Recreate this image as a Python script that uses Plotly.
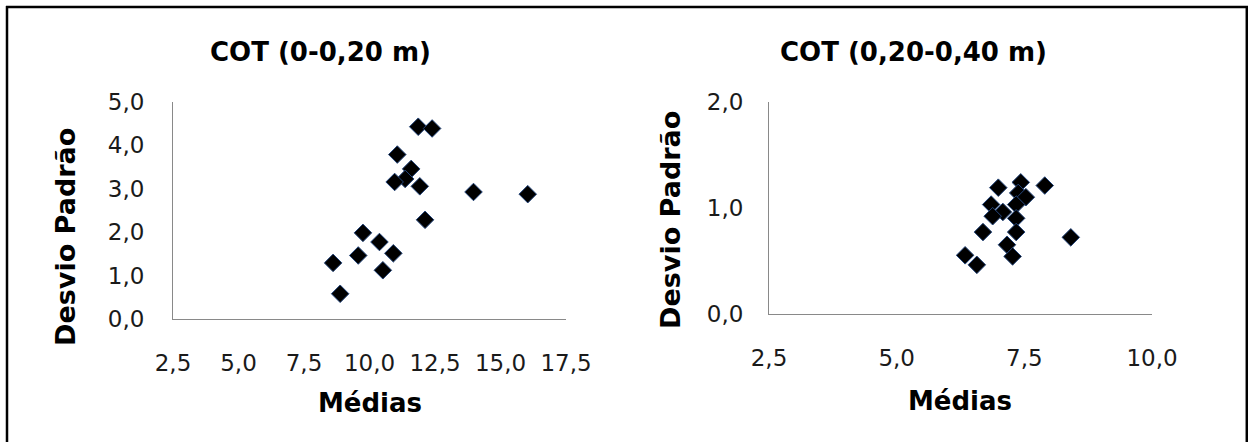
import plotly.graph_objects as go

# COT 0-0,20 m: mean (Médias) vs standard deviation (Desvio Padrão)
medias_0_20 = [11.86, 12.39, 11.06, 11.59, 11.36, 10.96, 11.92, 13.97, 16.04,
               12.12, 9.75, 10.38, 9.57, 10.91, 8.61, 10.51, 8.88]
desvio_0_20 = [4.42, 4.38, 3.78, 3.45, 3.22, 3.15, 3.05, 2.92, 2.87,
               2.28, 1.98, 1.77, 1.46, 1.51, 1.29, 1.12, 0.58]

# COT 0,20-0,40 m
medias_20_40 = [6.99, 7.43, 7.90, 7.38, 7.53, 6.85, 7.34, 7.08, 6.88,
                7.34, 6.69, 7.34, 8.41, 7.16, 7.27, 6.34, 6.57]
desvio_20_40 = [1.19, 1.24, 1.21, 1.14, 1.10, 1.03, 1.03, 0.96, 0.92,
                0.90, 0.77, 0.77, 0.72, 0.65, 0.54, 0.55, 0.46]

titles = ["COT (0-0,20 m)", "COT (0,20-0,40 m)"]
x_label = "Médias"
y_label = "Desvio Padrão"

left_xticks = [2.5, 5.0, 7.5, 10.0, 12.5, 15.0, 17.5]
left_yticks = [0.0, 1.0, 2.0, 3.0, 4.0, 5.0]
right_xticks = [2.5, 5.0, 7.5, 10.0]
right_yticks = [0.0, 1.0, 2.0]


def fmt(v):
    return f"{v:.1f}".replace(".", ",")


W, H = 1248, 442
FONT = "DejaVu Sans"
AXIS_GRAY = "#898989"

marker = dict(symbol="diamond", size=13.5, color="black",
              line=dict(color="#24457a", width=1))

fig = go.Figure()
fig.add_trace(go.Scatter(x=medias_0_20, y=desvio_0_20, mode="markers",
                         marker=marker, xaxis="x", yaxis="y", showlegend=False))
fig.add_trace(go.Scatter(x=medias_20_40, y=desvio_20_40, mode="markers",
                         marker=marker, xaxis="x2", yaxis="y2", showlegend=False))


def px_x(p):
    return p / W


def px_y(p):
    return 1 - p / H


tick_font = dict(family=FONT, size=23, color="#1a1a1a")


def axis(dom, rng, ticks, anchor, standoff):
    return dict(domain=dom, range=rng, tickvals=ticks,
                ticktext=[fmt(t) for t in ticks], showgrid=False,
                zeroline=False, showline=True, linecolor=AXIS_GRAY,
                linewidth=1, ticks="", ticklabelstandoff=standoff,
                tickfont=tick_font, anchor=anchor, fixedrange=True,
                automargin=False)


fig.update_layout(
    width=W, height=H,
    margin=dict(l=0, r=0, t=0, b=0, pad=0, autoexpand=False),
    paper_bgcolor="white", plot_bgcolor="white",
    xaxis=axis([px_x(173), px_x(566)], [2.5, 17.5], left_xticks, "y", 23),
    yaxis=axis([px_y(319), px_y(101.5)], [0, 5], left_yticks, "x", 23),
    xaxis2=axis([px_x(769), px_x(1152)], [2.5, 10], right_xticks, "y2", 24),
    yaxis2=axis([px_y(313.5), px_y(102)], [0, 2], right_yticks, "x2", 20),
)

annotations = [
    dict(text=f"<b>{titles[0]}</b>", x=px_x(321), y=px_y(52)),
    dict(text=f"<b>{titles[1]}</b>", x=px_x(913), y=px_y(52)),
    dict(text=f"<b>{x_label}</b>", x=px_x(370), y=px_y(403)),
    dict(text=f"<b>{x_label}</b>", x=px_x(960), y=px_y(401)),
]
for a in annotations:
    a.update(xref="paper", yref="paper", showarrow=False,
             xanchor="center", yanchor="middle",
             font=dict(family=FONT, size=26, color="black"))
for xc, yc in [(65, 237), (670, 220)]:
    annotations.append(dict(text=f"<b>{y_label}</b>", x=px_x(xc), y=px_y(yc),
                            xref="paper", yref="paper", showarrow=False,
                            textangle=-90, xanchor="center", yanchor="middle",
                            font=dict(family=FONT, size=27, color="black")))
fig.update_layout(annotations=annotations)

# outer frame (left, top, right edges)
frame = dict(type="line", xref="paper", yref="paper",
             line=dict(color="black", width=2.5))
fig.update_layout(shapes=[
    dict(frame, x0=px_x(7), x1=px_x(7), y0=px_y(6), y1=px_y(460)),
    dict(frame, x0=px_x(6), x1=px_x(1248), y0=px_y(7), y1=px_y(7)),
    dict(frame, x0=px_x(1246.8), x1=px_x(1246.8), y0=px_y(6), y1=px_y(460)),
])

fig.write_html("out.html")
